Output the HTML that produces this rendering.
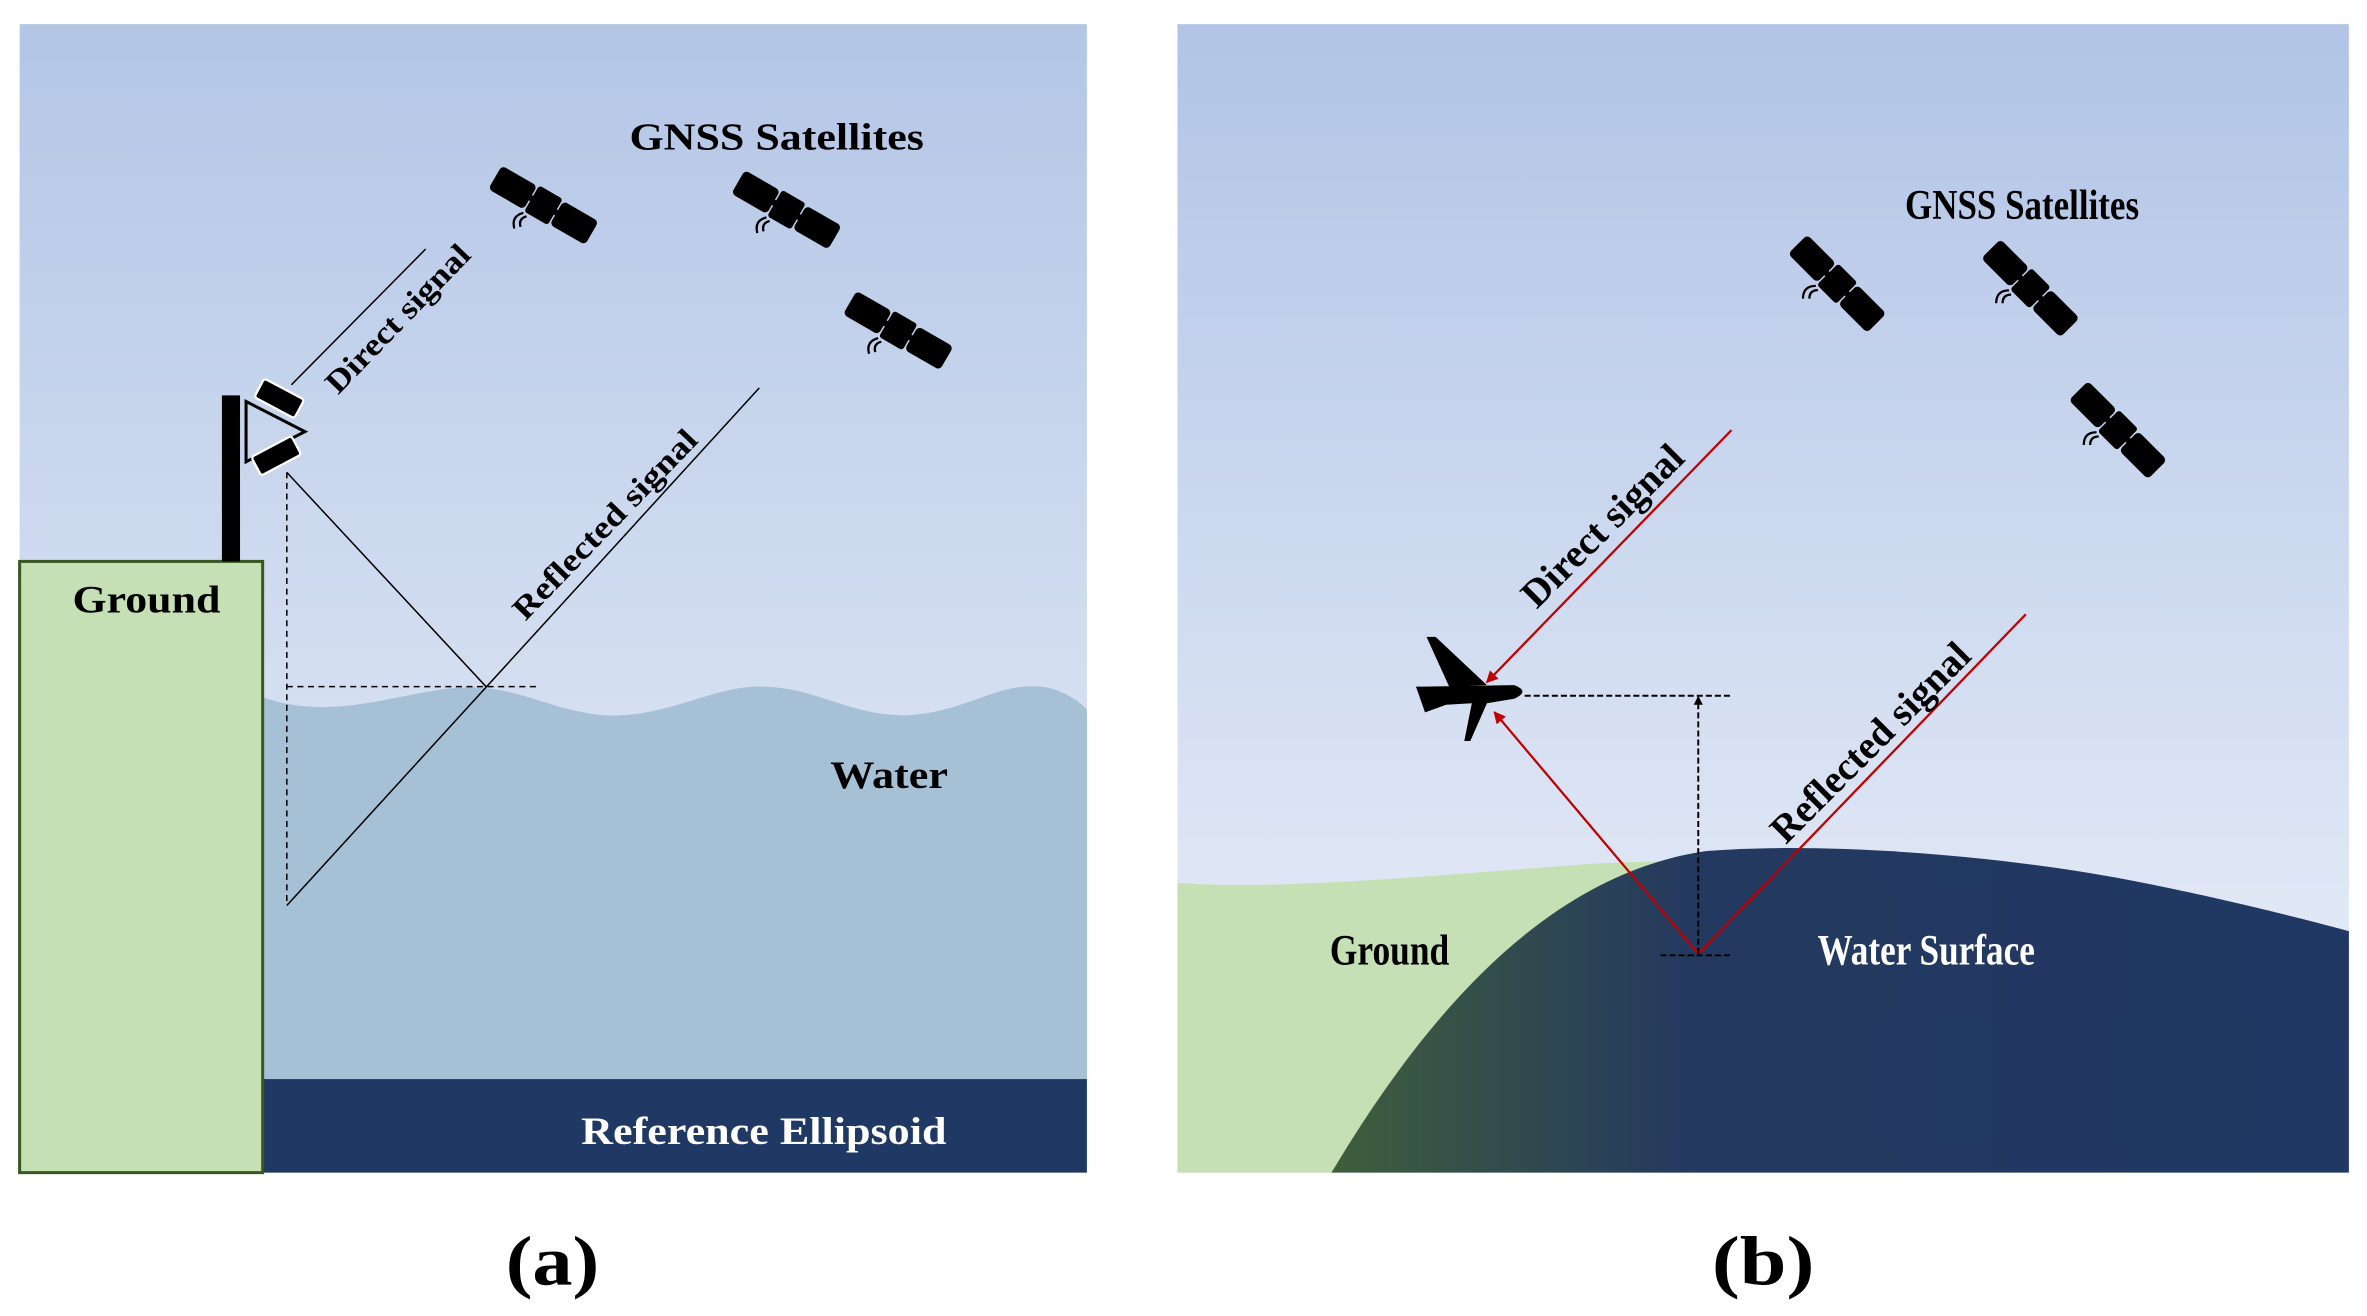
<!DOCTYPE html>
<html><head><meta charset="utf-8"><style>
html,body{margin:0;padding:0;background:#fff}
svg{display:block}
text{font-family:"Liberation Serif",serif;font-weight:bold}
</style></head><body>
<svg width="2367" height="1316" viewBox="0 0 1568 872" preserveAspectRatio="none" xmlns="http://www.w3.org/2000/svg">
<defs>
<linearGradient id="sky" x1="0" y1="0" x2="0" y2="1">
<stop offset="0" stop-color="#b3c6e6"/><stop offset="1" stop-color="#ecf0f9"/>
</linearGradient>
<linearGradient id="skyb" x1="0" y1="0" x2="0" y2="1">
<stop offset="0" stop-color="#b1c4e6"/><stop offset="1" stop-color="#eef2fa"/>
</linearGradient>
<linearGradient id="wat" x1="0" y1="0" x2="1" y2="0">
<stop offset="0" stop-color="#3e5e3c"/><stop offset="0.35" stop-color="#24395f"/><stop offset="1" stop-color="#203864"/>
</linearGradient>
<g id="sat">
<rect x="-37" y="-9" width="27" height="18" rx="3" fill="#000"/>
<rect x="10" y="-9" width="27" height="18" rx="3" fill="#000"/>
<rect x="-9" y="-10" width="18" height="20" rx="2" fill="#000"/>
<rect x="-11" y="-2" width="22" height="4" fill="#000"/>
<path d="M-6 12 q-4 4 0 8 M-9 11 q-6 6 0 12" stroke="#000" stroke-width="1.5" fill="none"/>
</g>
<marker id="ar" markerWidth="8" markerHeight="8" refX="7" refY="4" orient="auto" markerUnits="userSpaceOnUse"><path d="M0 0 L8 4 L0 8 Z" fill="#c00000"/></marker>
<marker id="ak" markerWidth="6" markerHeight="6" refX="5" refY="3" orient="auto" markerUnits="userSpaceOnUse"><path d="M0 0 L6 3 L0 6 Z" fill="#000"/></marker>
</defs>
<!-- panel a -->
<rect x="13" y="16" width="707" height="761" fill="url(#sky)"/>
<path d="M174 462 C220 478 260 460 300 456 C340 452 360 470 400 474 C440 476 470 456 500 455 C540 454 560 474 600 474 C640 472 660 452 690 455 C705 457 715 465 720 470 L720 715 L174 715 Z" fill="#a6c1d6"/>
<rect x="174" y="715" width="546" height="62" fill="#203864"/>
<rect x="13" y="372" width="161" height="405" fill="#c5e0b4" stroke="#385723" stroke-width="2"/>
<rect x="147" y="262" width="12" height="110" fill="#000"/>
<path d="M163 266 L202 286 L163 306 Z" fill="none" stroke="#000" stroke-width="2"/>
<rect x="170" y="257" width="30" height="14" rx="2" fill="#000" stroke="#fff" stroke-width="1.5" transform="rotate(28 185 264)"/>
<rect x="168" y="295" width="30" height="14" rx="2" fill="#000" stroke="#fff" stroke-width="1.5" transform="rotate(-28 183 302)"/>
<line x1="193" y1="255" x2="282" y2="165" stroke="#000" stroke-width="1"/>
<line x1="190" y1="313" x2="322" y2="455" stroke="#000" stroke-width="1"/>
<line x1="190" y1="600" x2="503" y2="257" stroke="#000" stroke-width="1"/>
<line x1="190" y1="313" x2="190" y2="600" stroke="#000" stroke-width="1" stroke-dasharray="4 3"/>
<line x1="190" y1="455" x2="355" y2="455" stroke="#000" stroke-width="1" stroke-dasharray="4 3"/>
<use href="#sat" transform="translate(360 136) rotate(30)"/>
<use href="#sat" transform="translate(521 139) rotate(30)"/>
<use href="#sat" transform="translate(595 219) rotate(30)"/>
<text x="417" y="99" font-size="25" textLength="195" lengthAdjust="spacingAndGlyphs">GNSS Satellites</text>
<text x="0" y="0" font-size="21" textLength="128" lengthAdjust="spacingAndGlyphs" transform="translate(224 262) rotate(-46)">Direct signal</text>
<text x="0" y="0" font-size="21" textLength="166" lengthAdjust="spacingAndGlyphs" transform="translate(348 412) rotate(-46)">Reflected signal</text>
<text x="48" y="406" font-size="26" textLength="98" lengthAdjust="spacingAndGlyphs">Ground</text>
<text x="550" y="522" font-size="26" textLength="78" lengthAdjust="spacingAndGlyphs">Water</text>
<text x="385" y="758" font-size="26" fill="#fff" textLength="242" lengthAdjust="spacingAndGlyphs">Reference Ellipsoid</text>
<text x="335" y="851" font-size="46" textLength="62" lengthAdjust="spacingAndGlyphs">(a)</text>
<!-- panel b -->
<rect x="780" y="16" width="776" height="761" fill="url(#skyb)"/>
<path d="M780 585 C850 590 950 580 1060 572 L1120 570 L1120 777 L780 777 Z" fill="#c5e0b4"/>
<path d="M882 777 C940 680 1020 580 1130 564 C1200 558 1320 565 1420 585 C1480 597 1530 610 1556 617 L1556 777 Z" fill="url(#wat)"/>
<line x1="1147" y1="285" x2="985" y2="452" stroke="#c00000" stroke-width="1.5" marker-end="url(#ar)"/>
<line x1="1342" y1="407" x2="1125" y2="632" stroke="#c00000" stroke-width="1.5"/>
<line x1="1125" y1="632" x2="990" y2="472" stroke="#c00000" stroke-width="1.5" marker-end="url(#ar)"/>
<line x1="1010" y1="461" x2="1148" y2="461" stroke="#000" stroke-width="1.3" stroke-dasharray="4 2"/>
<line x1="1100" y1="633" x2="1146" y2="633" stroke="#000" stroke-width="1.3" stroke-dasharray="4 2"/>
<line x1="1125" y1="632" x2="1125" y2="462" stroke="#000" stroke-width="1.3" stroke-dasharray="4 2" marker-end="url(#ak)"/>
<path d="M943 455 L1003 454 Q1014 458 1003 463 L985 466 L974 491 L970 491 L975 466 L958 467 L944 472 L938 455 Z M960 455 L945 422 L951 422 L985 454 Z" fill="#000"/>
<use href="#sat" transform="translate(1217 188) rotate(45)"/>
<use href="#sat" transform="translate(1345 191) rotate(45)"/>
<use href="#sat" transform="translate(1403 285) rotate(45)"/>
<text x="1262" y="145" font-size="28" textLength="155" lengthAdjust="spacingAndGlyphs">GNSS Satellites</text>
<text x="0" y="0" font-size="26" transform="translate(1018 404) rotate(-45)">Direct signal</text>
<text x="0" y="0" font-size="26" transform="translate(1183 560) rotate(-45)">Reflected signal</text>
<text x="881" y="639" font-size="29" textLength="79" lengthAdjust="spacingAndGlyphs">Ground</text>
<text x="1204" y="639" font-size="29" fill="#fff" textLength="144" lengthAdjust="spacingAndGlyphs">Water Surface</text>
<text x="1134" y="851" font-size="46" textLength="68" lengthAdjust="spacingAndGlyphs">(b)</text>
</svg>
</body></html>
